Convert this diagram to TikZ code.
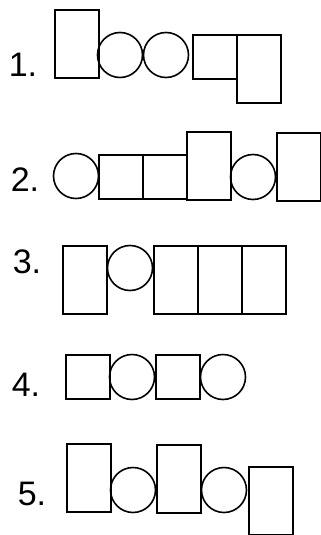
\documentclass[tikz,border=0pt]{standalone}
\usepackage{fontspec}
\setmainfont{Liberation Sans}
\begin{document}
\begin{tikzpicture}[x=1pt,y=-1pt,
    shape line/.style={draw,line width=1.6pt,inner sep=0pt},
    tallbox/.style={shape line,minimum width=44pt,minimum height=68pt,anchor=north west},
    sqbox/.style={shape line,minimum width=44pt,minimum height=44pt,anchor=north west},
    ring/.style={shape line,circle,minimum size=45pt},
    lbl/.style={font=\fontsize{34}{38}\selectfont}]
      \useasboundingbox (0,0) rectangle (321,535);

      % row 1
      \node[lbl] (n1) at (23,65) {1.};
      \node[tallbox] (r1a) at (54,9) {};
      \node[ring] (r1b) at (120,55) {};
      \node[ring] (r1c) at (166,55) {};
      \node[sqbox] (r1d) at (192,34) {};
      \node[tallbox] (r1e) at (236,34) {};

      % row 2
      \node[lbl] (n2) at (25,180) {2.};
      \node[ring] (r2a) at (76,176) {};
      \node[sqbox] (r2b) at (98,154) {};
      \node[sqbox] (r2c) at (142,154) {};
      \node[tallbox] (r2d) at (186,131) {};
      \node[ring] (r2e) at (253,177) {};
      \node[tallbox] (r2f) at (276,132) {};

      % row 3
      \node[lbl] (n3) at (27,262) {3.};
      \node[tallbox] (r3a) at (62,245) {};
      \node[ring] (r3b) at (130,268) {};
      \node[tallbox] (r3c) at (153,245) {};
      \node[tallbox] (r3d) at (197,245) {};
      \node[tallbox] (r3e) at (241,245) {};

      % row 4
      \node[lbl] (n4) at (26,385) {4.};
      \node[sqbox] (r4a) at (65,354) {};
      \node[ring] (r4b) at (132,377) {};
      \node[sqbox] (r4c) at (155,354) {};
      \node[ring] (r4d) at (223,377) {};

      % row 5
      \node[lbl] (n5) at (32,494) {5.};
      \node[tallbox] (r5a) at (66,443) {};
      \node[ring] (r5b) at (133,490) {};
      \node[tallbox] (r5c) at (156,444) {};
      \node[ring] (r5d) at (224,490) {};
      \node[tallbox] (r5e) at (248,466) {};
    \end{tikzpicture}
\end{document}
